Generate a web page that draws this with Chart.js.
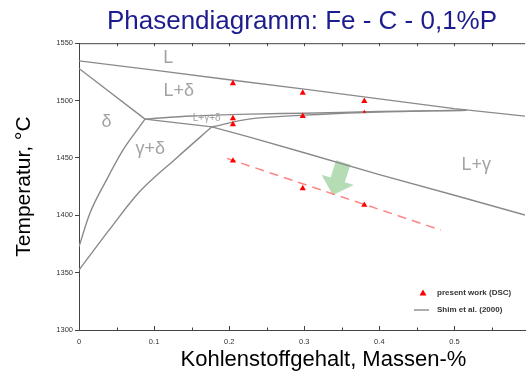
<!DOCTYPE html>
<html>
<head>
<meta charset="utf-8">
<title>Phasendiagramm: Fe - C - 0,1%P</title>
<script src="https://cdn.jsdelivr.net/npm/chart.js@4.4.1/dist/chart.umd.min.js"></script>
<style>
  html, body { margin: 0; padding: 0; background: #fff; overflow: hidden; }
</style>
</head>
<body>
<canvas id="phaseChart" width="529" height="371"></canvas>
<script>
// ── Data (x = wt-% C, y = °C) ───────────────────────────────────────────────

// present work (DSC)
const dscC    = [0.205, 0.205, 0.205, 0.205, 0.298, 0.298, 0.298, 0.38, 0.38, 0.38];
const dscTemp = [1514.9, 1484.4, 1479.2, 1447.5, 1506.7, 1486.4, 1423.4, 1499.5, 1490.2, 1408.9];

// Shim et al. (2000) phase boundaries
const liquidusC = [0, 0.1, 0.2, 0.3, 0.4, 0.5, 0.594];
const liquidusT = [1534.6, 1526.5, 1518.2, 1510, 1501.5, 1493, 1486.4];

const deltaSolidusC = [0, 0.088];
const deltaSolidusT = [1528, 1483.8];

const threePhaseTopC = [0.088, 0.15, 0.226, 0.3, 0.4, 0.516];
const threePhaseTopT = [1483.8, 1486.5, 1488.2, 1489, 1490.4, 1491.6];

const threePhaseLowC = [0.177, 0.226, 0.3, 0.38, 0.516];
const threePhaseLowT = [1477.1, 1483.8, 1487.3, 1489.6, 1491.6];

const gammaSolidusC = [0.088, 0.177, 0.226, 0.3, 0.4, 0.5, 0.594];
const gammaSolidusT = [1483.8, 1477.1, 1468.4, 1454.5, 1435.5, 1417.5, 1400.2];

const gammaDeltaC = [0, 0.04, 0.08, 0.13, 0.177];
const gammaDeltaT = [1352.3, 1387, 1420, 1450, 1477.1];

const deltaGammaC = [0, 0.0145, 0.0365, 0.0585, 0.0805, 0.088];
const deltaGammaT = [1372.6, 1401.7, 1430.7, 1456.8, 1477.1, 1483.8];

// red dashed trend through the lowest DSC signals
const trendC = [0.197, 0.482];
const trendT = [1449.6, 1387.1];

// green arrow (start, tip)
const arrowC = [0.352, 0.338];
const arrowT = [1446, 1417.6];

// phase field labels
const fieldNames = ['L', 'L+δ', 'δ', 'γ+δ', 'L+γ+δ', 'L+γ'];
const fieldC     = [0.119, 0.133, 0.0365, 0.095, 0.170, 0.529];
const fieldT     = [1536.9, 1508.2, 1481.4, 1457.7, 1484.7, 1443.7];

// axes
const xMin = 0, xMax = 0.594, xStep = 0.1;
const yMin = 1300, yMax = 1550, yStep = 50;

// ── Helpers ─────────────────────────────────────────────────────────────────

const FONT = "'Liberation Sans', Arial, sans-serif";
const LINE_GREY = '#8a8a8a';

function toPoints(cs, ts) {
    return cs.map((c, i) => ({ x: c, y: ts[i] }));
}

function boundary(label, cs, ts, curved) {
    return {
        label: label,
        data: toPoints(cs, ts),
        showLine: true,
        borderColor: LINE_GREY,
        borderWidth: 1.4,
        pointRadius: 0,
        tension: curved ? 0.4 : 0,
        cubicInterpolationMode: curved ? 'monotone' : 'default',
        order: 1
    };
}

// ── Decorations: arrow, inner ticks, field labels, legend, x title ─────────

const phaseDecor = {
    id: 'phaseDecor',
    beforeDatasetsDraw(chart) {
        const { ctx, scales: { x, y } } = chart;
        const x0 = x.getPixelForValue(arrowC[0]), y0 = y.getPixelForValue(arrowT[0]);
        const x1 = x.getPixelForValue(arrowC[1]), y1 = y.getPixelForValue(arrowT[1]);
        const len = Math.hypot(x1 - x0, y1 - y0);
        const ux = (x1 - x0) / len, uy = (y1 - y0) / len;
        const nx = -uy, ny = ux;
        const shaft = 7.5, head = 17, headLen = 16;
        const bx = x1 - ux * headLen, by = y1 - uy * headLen;
        ctx.save();
        ctx.fillStyle = 'rgba(150, 205, 150, 0.7)';
        ctx.beginPath();
        ctx.moveTo(x0 + nx * shaft, y0 + ny * shaft);
        ctx.lineTo(bx + nx * shaft, by + ny * shaft);
        ctx.lineTo(bx + nx * head, by + ny * head);
        ctx.lineTo(x1, y1);
        ctx.lineTo(bx - nx * head, by - ny * head);
        ctx.lineTo(bx - nx * shaft, by - ny * shaft);
        ctx.lineTo(x0 - nx * shaft, y0 - ny * shaft);
        ctx.closePath();
        ctx.fill();

        // phase field labels
        ctx.fillStyle = '#a3a3a3';
        ctx.textAlign = 'center';
        ctx.textBaseline = 'middle';
        fieldNames.forEach((name, i) => {
            ctx.font = (name === 'L+γ+δ' ? '10px ' : '18px ') + FONT;
            ctx.fillText(name, x.getPixelForValue(fieldC[i]), y.getPixelForValue(fieldT[i]));
        });
        ctx.restore();
    },
    afterDatasetsDraw(chart) {
        const { ctx, chartArea: ca, scales: { x } } = chart;
        ctx.save();
        ctx.strokeStyle = '#444';
        ctx.lineWidth = 1;

        // top frame line
        ctx.beginPath();
        ctx.moveTo(ca.left, ca.top + 0.5);
        ctx.lineTo(ca.right, ca.top + 0.5);
        ctx.stroke();

        // inward ticks every 0.05 on top and bottom
        ctx.beginPath();
        for (let i = 1; i * 0.05 <= x.max; i++) {
            const px = Math.round(x.getPixelForValue(i * 0.05)) + 0.5;
            const major = i % 2 === 0;
            ctx.moveTo(px, ca.bottom);
            ctx.lineTo(px, ca.bottom - (major ? 4 : 2.5));
            ctx.moveTo(px, ca.top);
            ctx.lineTo(px, ca.top + 3);
        }
        ctx.stroke();

        // legend, bottom right inside the plot
        const lx = ca.right - 102, ly1 = ca.bottom - 37, ly2 = ca.bottom - 20;
        ctx.fillStyle = 'red';
        ctx.beginPath();
        ctx.moveTo(lx, ly1 - 3.5);
        ctx.lineTo(lx + 3.5, ly1 + 2.5);
        ctx.lineTo(lx - 3.5, ly1 + 2.5);
        ctx.closePath();
        ctx.fill();
        ctx.strokeStyle = LINE_GREY;
        ctx.lineWidth = 1.4;
        ctx.beginPath();
        ctx.moveTo(lx - 9, ly2);
        ctx.lineTo(lx + 6, ly2);
        ctx.stroke();
        ctx.fillStyle = '#333';
        ctx.font = 'bold 8px ' + FONT;
        ctx.textAlign = 'left';
        ctx.textBaseline = 'middle';
        ctx.fillText(chart.data.datasets[0].label, lx + 14, ly1);
        ctx.fillText(chart.data.datasets[1].label, lx + 14, ly2);

        // x axis title
        ctx.fillStyle = '#000';
        ctx.font = '22px ' + FONT;
        ctx.textAlign = 'center';
        ctx.fillText('Kohlenstoffgehalt, Massen-%', ca.left + (ca.right - ca.left) * 0.548, ca.bottom + 30);
        ctx.restore();
    }
};

// ── Chart ───────────────────────────────────────────────────────────────────

Chart.defaults.font.family = FONT;

new Chart(document.getElementById('phaseChart'), {
    type: 'scatter',
    data: {
        datasets: [
            {
                label: 'present work (DSC)',
                data: toPoints(dscC, dscTemp),
                pointStyle: 'triangle',
                pointRadius: [3.6, 3.6, 3.6, 3.6, 3.6, 3.6, 3.6, 3.6, 2, 3.6],
                backgroundColor: 'red',
                borderColor: 'red',
                borderWidth: 0,
                order: 0
            },
            boundary('Shim et al. (2000)', liquidusC, liquidusT, false),
            boundary('δ solidus', deltaSolidusC, deltaSolidusT, false),
            boundary('L+γ+δ upper', threePhaseTopC, threePhaseTopT, true),
            boundary('L+γ+δ lower', threePhaseLowC, threePhaseLowT, true),
            boundary('γ solidus', gammaSolidusC, gammaSolidusT, false),
            boundary('γ / γ+δ', gammaDeltaC, gammaDeltaT, true),
            boundary('δ / γ+δ', deltaGammaC, deltaGammaT, true),
            {
                label: 'trend',
                data: toPoints(trendC, trendT),
                showLine: true,
                borderColor: 'rgba(255, 110, 110, 0.85)',
                borderWidth: 1.5,
                borderDash: [9, 6],
                pointRadius: 0,
                order: 2
            }
        ]
    },
    options: {
        responsive: false,
        animation: false,
        devicePixelRatio: 1,
        layout: { padding: 0 },
        plugins: {
            legend: { display: false },
            tooltip: { enabled: false },
            title: {
                display: true,
                fullSize: false,
                text: 'Phasendiagramm: Fe - C - 0,1%P',
                color: '#1c1c8e',
                font: { size: 26, weight: 'normal' },
                padding: { top: 6, bottom: 6 }
            }
        },
        scales: {
            x: {
                type: 'linear',
                min: xMin,
                max: xMax,
                ticks: {
                    stepSize: xStep,
                    includeBounds: false,
                    color: '#333',
                    font: { size: 7.5 },
                    padding: 7,
                    callback: v => String(Math.round(v * 10) / 10)
                },
                grid: { display: false, drawTicks: false },
                border: { color: '#444', width: 1 },
                afterFit: s => { s.height = 41; }
            },
            y: {
                min: yMin,
                max: yMax,
                ticks: {
                    stepSize: yStep,
                    color: '#333',
                    font: { size: 7.5 },
                    padding: 2,
                    callback: v => String(v)
                },
                grid: { drawOnChartArea: false, drawTicks: true, tickLength: 4, color: '#444' },
                border: { color: '#444', width: 1 },
                title: {
                    display: true,
                    text: 'Temperatur, °C',
                    color: '#000',
                    font: { size: 21 },
                    padding: { top: 12, bottom: 0 }
                },
                afterFit: s => { s.width = 79; }
            }
        }
    },
    plugins: [phaseDecor]
});
</script>
</body>
</html>
